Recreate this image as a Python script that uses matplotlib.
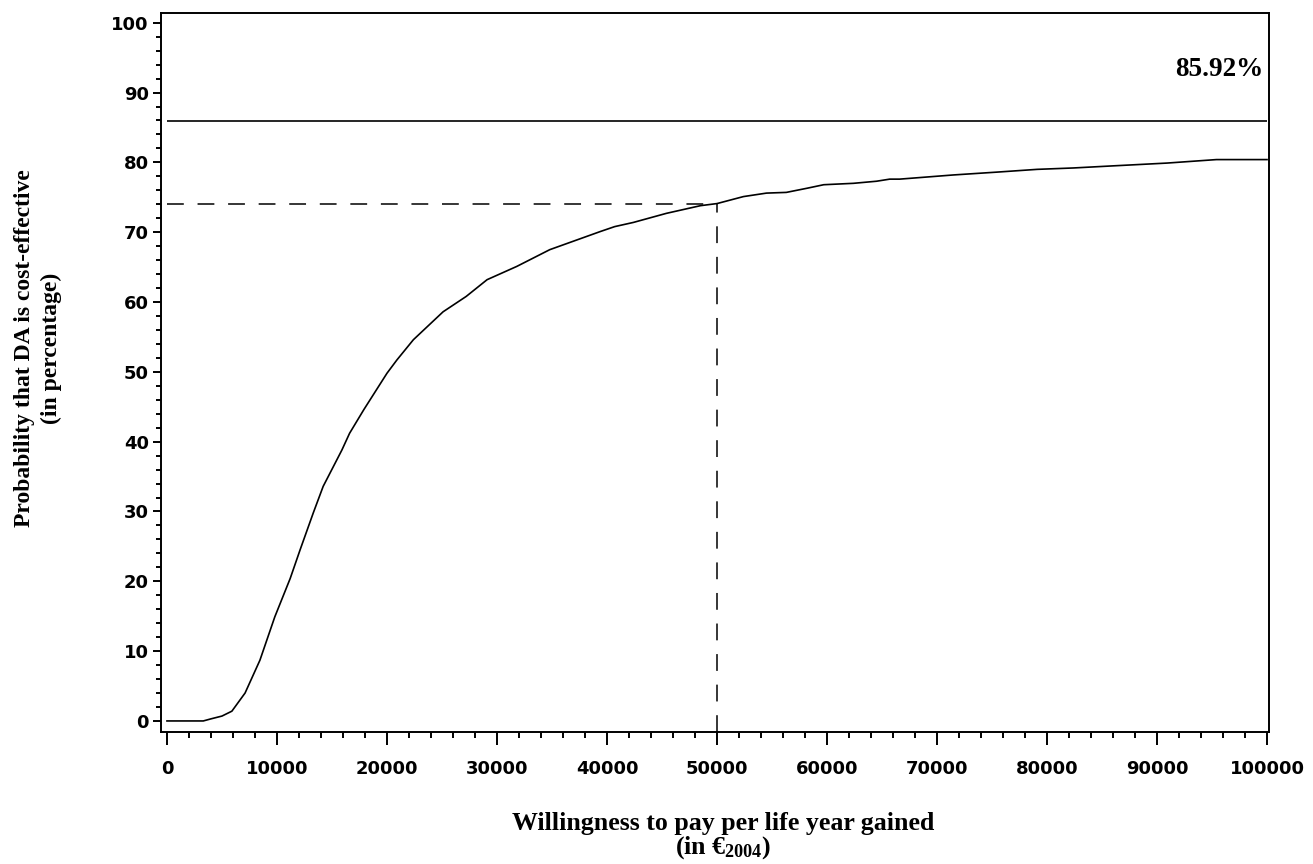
import matplotlib
matplotlib.use("Agg")
import matplotlib.pyplot as plt
from matplotlib.ticker import MultipleLocator

plt.rcParams['mathtext.default'] = 'regular'

# acceptability curve
wtp = [0, 1000, 2000, 3000, 3300, 4000, 5000, 5900, 7100, 8450, 9800,
       11200, 12100, 13300, 14200, 15900, 16600, 17900, 20000, 20900,
       22400, 25100, 27200, 29100, 31800, 34800, 39400, 40700, 42400, 45400,
       48500, 50000, 52400, 54500, 56300, 58200, 59700, 62400, 64500, 65700,
       66600, 71500, 75400, 79100, 82400, 86000, 90900, 95400, 100000]
prob = [0, 0, 0, 0, 0, 0.3, 0.7, 1.4, 4.0, 8.7, 14.9,
        20.4, 24.5, 29.8, 33.6, 38.8, 41.2, 44.6, 49.8, 51.7,
        54.6, 58.6, 60.8, 63.2, 65.1, 67.5, 70.1, 70.8, 71.4, 72.7,
        73.8, 74.1, 75.1, 75.6, 75.7, 76.3, 76.8, 77.0, 77.3, 77.6,
        77.6, 78.2, 78.6, 79.0, 79.2, 79.5, 79.9, 80.4, 80.4]

threshold_x = 50000
threshold_y = 74.07
max_prob = 85.92

fig = plt.figure(figsize=(13.13, 8.64), dpi=100)
ax = fig.add_axes([0.1226, 0.1528, 0.8439, 0.8322])

ax.plot(wtp, prob, color='black', lw=1.2)
ax.hlines(max_prob, 0, 100000, color='black', lw=1.2)
ax.hlines(threshold_y, 0, threshold_x, color='black', lw=1.1,
          linestyles=(0, (11, 9)))
ax.vlines(threshold_x, -1.58, threshold_y, color='black', lw=1.1,
          linestyles=(0, (11, 9)))
ax.text(99700, 93.3, f"{max_prob:.2f}%", ha='right', va='center',
        fontsize=19.5, fontweight='bold', family='Liberation Serif')

ax.set_xlim(-545, 100180)
ax.set_ylim(-1.58, 101.4)

ax.xaxis.set_major_locator(MultipleLocator(10000))
ax.xaxis.set_minor_locator(MultipleLocator(2000))
ax.yaxis.set_major_locator(MultipleLocator(10))
ax.yaxis.set_minor_locator(MultipleLocator(2))

for s in ax.spines.values():
    s.set_linewidth(1.4)

ax.tick_params(axis='x', which='major', length=9.4, width=1.4, pad=11)
ax.tick_params(axis='x', which='minor', length=4.3, width=1.4)
ax.tick_params(axis='y', which='major', length=5.8, width=1.4, pad=3)
ax.tick_params(axis='y', which='minor', length=3.4, width=1.4)
for lab in ax.get_xticklabels() + ax.get_yticklabels():
    lab.set_fontweight('bold')
    lab.set_fontsize(13)
    lab.set_family('DejaVu Sans')

fig.text(0.551, 0.032, "Willingness to pay per life year gained\n(in €$_{2004}$)",
         ha='center', va='center', multialignment='center',
         fontsize=18.6, fontweight='bold', family='Liberation Serif',
         linespacing=0.95)
fig.text(0.029, 0.597, "Probability that DA is cost-effective\n(in percentage)",
         ha='center', va='center', rotation=90, multialignment='center',
         fontsize=17, fontweight='bold', family='Liberation Serif',
         linespacing=1.35)

fig.savefig("out.png", dpi=100)
